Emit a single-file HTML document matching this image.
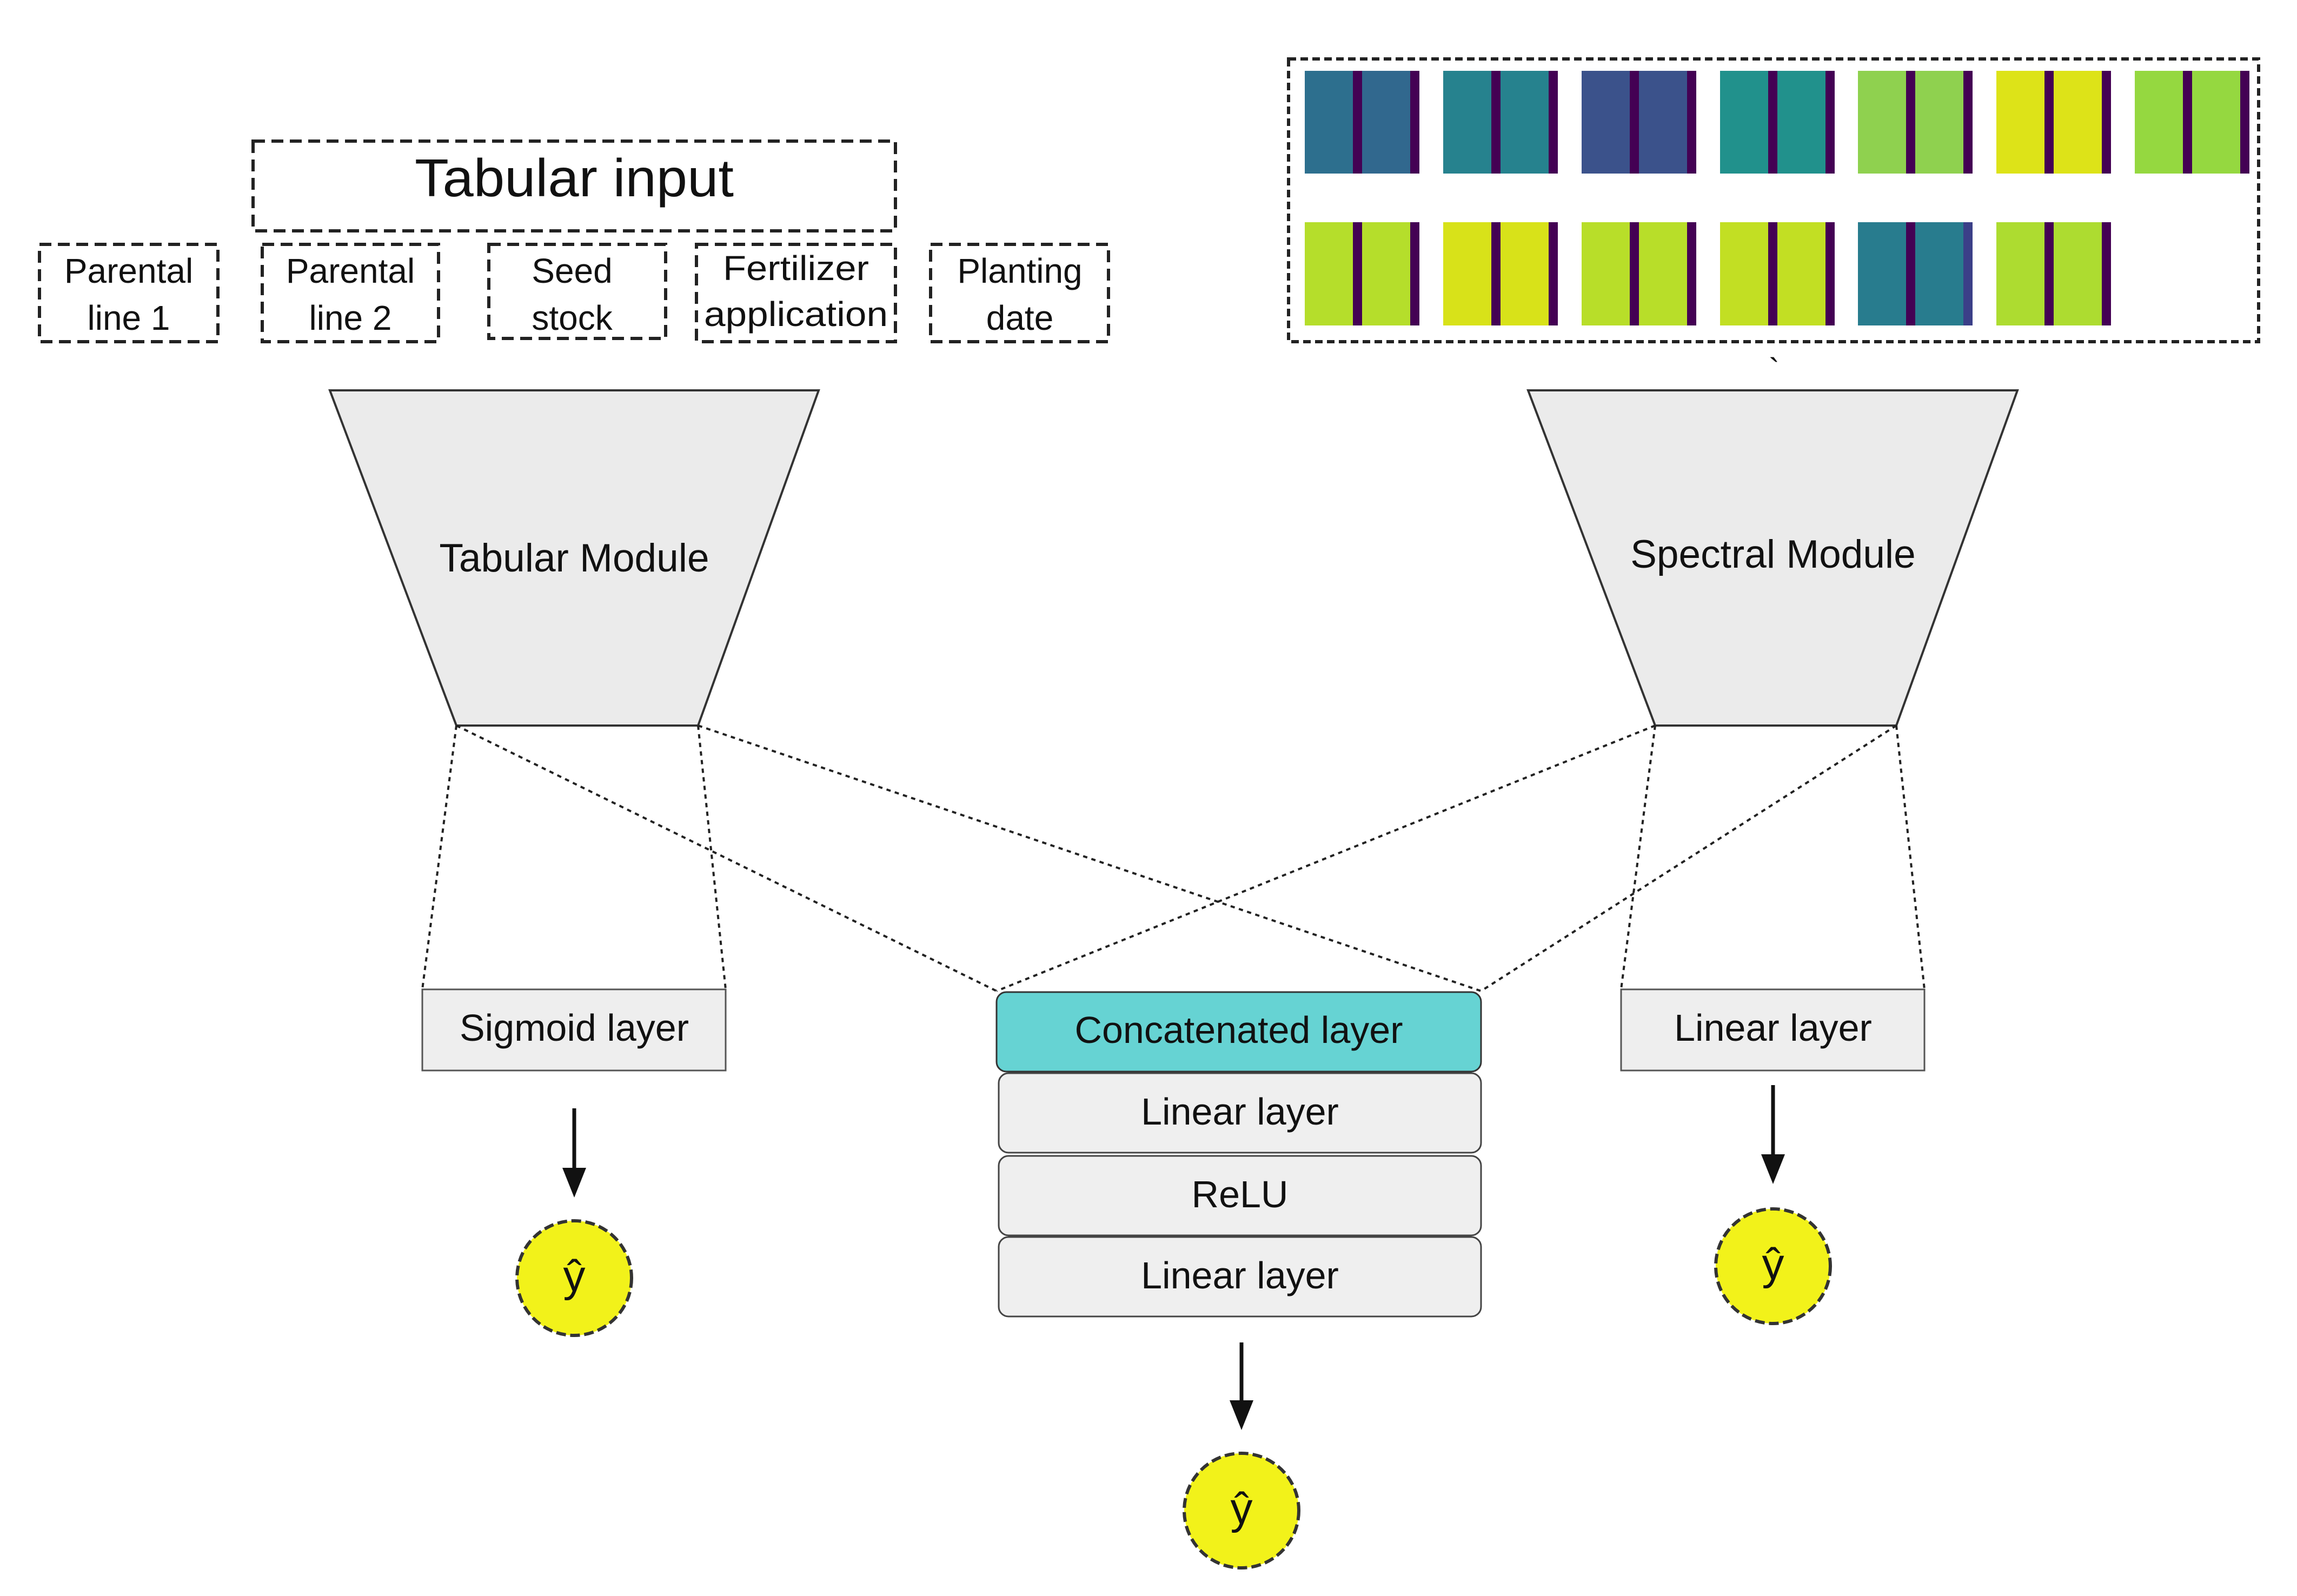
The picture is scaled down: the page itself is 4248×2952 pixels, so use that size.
<!DOCTYPE html>
<html><head><meta charset="utf-8"><style>
html,body{margin:0;padding:0;background:#fff}
svg{display:block}
text{font-family:"Liberation Sans",sans-serif;fill:#111}
</style></head><body>
<svg width="4248" height="2952" viewBox="0 0 4248 2952" xmlns="http://www.w3.org/2000/svg">
<defs>
<marker id="ah" markerWidth="10" markerHeight="10" refX="5" refY="9" orient="auto" markerUnits="userSpaceOnUse" viewBox="0 0 10 10">
</marker>
</defs>
<g fill="none" stroke="#222" stroke-width="6" stroke-dasharray="22,12">
<rect x="468" y="261" width="1188" height="166"/>
<rect x="73" y="452" width="330" height="180"/>
<rect x="485" y="452" width="326" height="180"/>
<rect x="904" y="452" width="327" height="174"/>
<rect x="1288" y="452" width="368" height="180"/>
<rect x="1721" y="452" width="329" height="180"/>
<rect x="2383" y="109" width="1794" height="523" stroke-dasharray="14,8"/>
</g>
<g font-size="98" text-anchor="middle"><text x="1062" y="363" textLength="590" lengthAdjust="spacingAndGlyphs">Tabular input</text></g>
<g font-size="64" text-anchor="middle">
<text x="238" y="523">Parental</text><text x="238" y="610">line 1</text>
<text x="648" y="523">Parental</text><text x="648" y="610">line 2</text>
<text x="1058" y="523">Seed</text><text x="1058" y="610">stock</text>
<text x="1472" y="518" textLength="270" lengthAdjust="spacingAndGlyphs">Fertilizer</text><text x="1472" y="603" textLength="340" lengthAdjust="spacingAndGlyphs">application</text>
<text x="1886" y="523">Planting</text><text x="1886" y="610">date</text>
</g>
<!-- tiles -->
<g id="tiles">
<g transform="translate(2413,131)"><rect width="212" height="190" fill="#31688e"/><rect x="0" width="90" height="190" fill="#2d708e" opacity=".8"/><rect x="89" width="17" height="190" fill="#440154"/><rect x="195" width="17" height="190" fill="#440154"/></g>
<g transform="translate(2669,131)"><rect width="212" height="190" fill="#26828e"/><rect x="89" width="17" height="190" fill="#440154"/><rect x="195" width="17" height="190" fill="#440154"/></g>
<g transform="translate(2925,131)"><rect width="212" height="190" fill="#3b528b"/><rect x="89" width="17" height="190" fill="#440154"/><rect x="195" width="17" height="190" fill="#440154"/></g>
<g transform="translate(3181,131)"><rect width="212" height="190" fill="#21918c"/><rect x="89" width="17" height="190" fill="#440154"/><rect x="195" width="17" height="190" fill="#440154"/></g>
<g transform="translate(3436,131)"><rect width="212" height="190" fill="#8fd14f"/><rect x="89" width="17" height="190" fill="#440154"/><rect x="195" width="17" height="190" fill="#440154"/></g>
<g transform="translate(3692,131)"><rect width="212" height="190" fill="#dde318"/><rect x="89" width="17" height="190" fill="#440154"/><rect x="195" width="17" height="190" fill="#440154"/></g>
<g transform="translate(3948,131)"><rect width="212" height="190" fill="#95d840"/><rect x="89" width="17" height="190" fill="#440154"/><rect x="195" width="17" height="190" fill="#440154"/></g>
<g transform="translate(2413,411)"><rect width="212" height="191" fill="#b5de2b"/><rect x="89" width="17" height="191" fill="#440154"/><rect x="195" width="17" height="191" fill="#440154"/></g>
<g transform="translate(2669,411)"><rect width="212" height="191" fill="#d8e219"/><rect x="89" width="17" height="191" fill="#440154"/><rect x="195" width="17" height="191" fill="#440154"/></g>
<g transform="translate(2925,411)"><rect width="212" height="191" fill="#b8de29"/><rect x="89" width="17" height="191" fill="#440154"/><rect x="195" width="17" height="191" fill="#440154"/></g>
<g transform="translate(3181,411)"><rect width="212" height="191" fill="#c2df23"/><rect x="89" width="17" height="191" fill="#440154"/><rect x="195" width="17" height="191" fill="#440154"/></g>
<g transform="translate(3436,411)"><rect width="212" height="191" fill="#287c8e"/><rect x="89" width="17" height="191" fill="#440154"/><rect x="195" width="17" height="191" fill="#3b3f88"/></g>
<g transform="translate(3692,411)"><rect width="212" height="191" fill="#addc30"/><rect x="89" width="17" height="191" fill="#440154"/><rect x="195" width="17" height="191" fill="#440154"/></g>
</g>
<text x="3281" y="705" font-size="60" text-anchor="middle">`</text>
<!-- trapezoids -->
<polygon points="610,722 1514,722 1291,1342 844,1342" fill="#ebebeb" stroke="#333" stroke-width="4"/>
<polygon points="2826,722 3731,722 3507,1342 3061,1342" fill="#ebebeb" stroke="#333" stroke-width="4"/>
<text x="1062" y="1057" font-size="73" text-anchor="middle">Tabular Module</text>
<text x="3279" y="1050" font-size="73" text-anchor="middle">Spectral Module</text>
<!-- dotted lines -->
<g stroke="#222" stroke-width="4" stroke-dasharray="8,8" fill="none">
<line x1="844" y1="1342" x2="781" y2="1830"/>
<line x1="1291" y1="1342" x2="1342" y2="1830"/>
<line x1="844" y1="1342" x2="1843" y2="1833"/>
<line x1="1291" y1="1342" x2="2739" y2="1833"/>
<line x1="3061" y1="1342" x2="1843" y2="1833"/>
<line x1="3507" y1="1342" x2="2739" y2="1833"/>
<line x1="3061" y1="1342" x2="2998" y2="1830"/>
<line x1="3507" y1="1342" x2="3559" y2="1830"/>
</g>
<!-- layers -->
<rect x="781" y="1830" width="561" height="150" fill="#eeeeee" stroke="#555" stroke-width="3"/>
<rect x="2998" y="1830" width="561" height="150" fill="#eeeeee" stroke="#555" stroke-width="3"/>
<rect x="1843" y="1835" width="896" height="147" rx="18" fill="#66d3d3" stroke="#333" stroke-width="3"/>
<rect x="1847" y="1985" width="892" height="147" rx="18" fill="#efefef" stroke="#444" stroke-width="3"/>
<rect x="1847" y="2138" width="892" height="147" rx="18" fill="#efefef" stroke="#444" stroke-width="3"/>
<rect x="1847" y="2288" width="892" height="147" rx="18" fill="#efefef" stroke="#444" stroke-width="3"/>
<g font-size="70" text-anchor="middle">
<text x="1062" y="1925">Sigmoid layer</text>
<text x="3279" y="1925">Linear layer</text>
<text x="2291" y="1929">Concatenated layer</text>
<text x="2293" y="2080">Linear layer</text>
<text x="2293" y="2233">ReLU</text>
<text x="2293" y="2383">Linear layer</text>
</g>
<!-- arrows -->
<g stroke="#111" stroke-width="7">
<line x1="1062" y1="2050" x2="1062" y2="2170"/>
<line x1="2296" y1="2483" x2="2296" y2="2600"/>
<line x1="3279" y1="2007" x2="3279" y2="2145"/>
</g>
<g fill="#111">
<polygon points="1040,2160 1084,2160 1062,2215"/>
<polygon points="2274,2590 2318,2590 2296,2645"/>
<polygon points="3257,2135 3301,2135 3279,2190"/>
</g>
<!-- circles -->
<g fill="#f2f21a" stroke="#333" stroke-width="6" stroke-dasharray="18,8">
<circle cx="1062" cy="2364" r="106"/>
<circle cx="2296" cy="2794" r="106"/>
<circle cx="3279" cy="2342" r="106"/>
</g>
<g font-size="82" text-anchor="middle">
<text x="1062" y="2388">ŷ</text>
<text x="2296" y="2818">ŷ</text>
<text x="3279" y="2366">ŷ</text>
</g>
</svg>
</body></html>
